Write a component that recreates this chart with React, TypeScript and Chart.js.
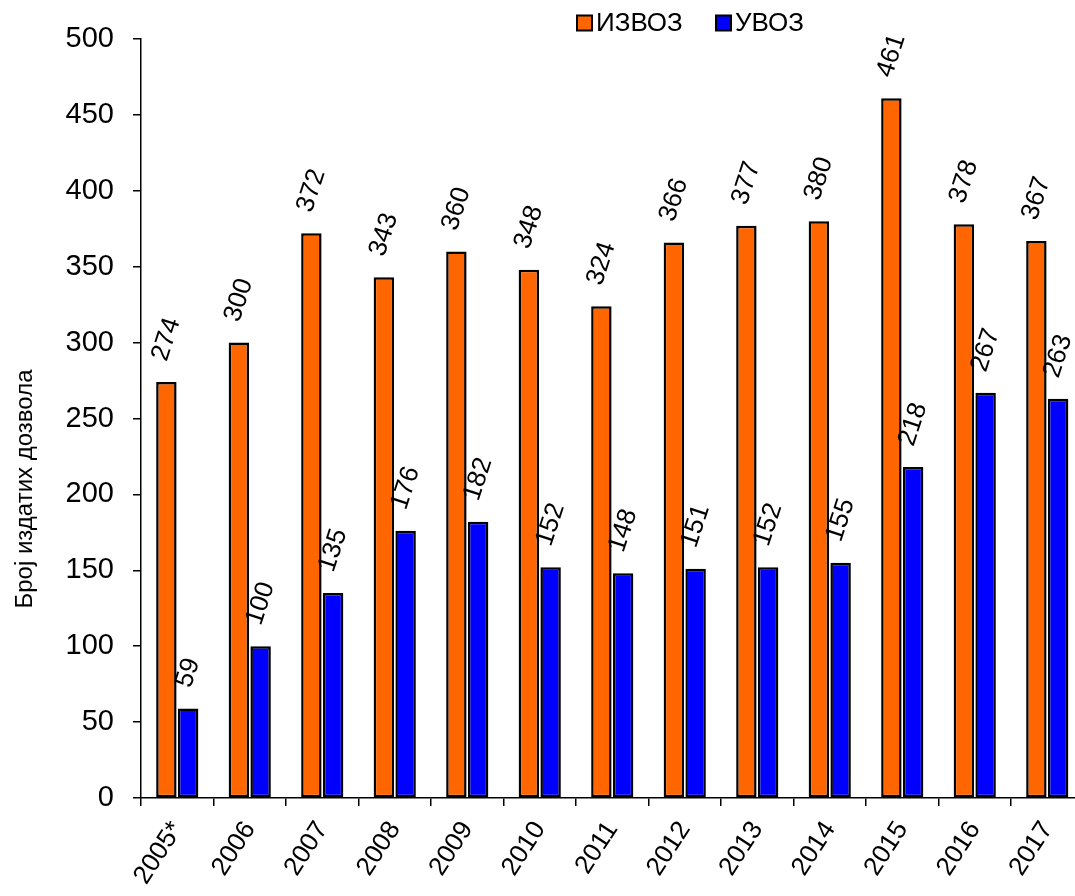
import React, { useEffect, useRef } from "react";
import { Chart, registerables } from "chart.js";

Chart.register(...registerables);

const categories = ["2005*", "2006", "2007", "2008", "2009", "2010", "2011", "2012", "2013", "2014", "2015", "2016", "2017"];
const exportValues = [274, 300, 372, 343, 360, 348, 324, 366, 377, 380, 461, 378, 367];
const importValues = [59, 100, 135, 176, 182, 152, 148, 151, 152, 155, 218, 267, 263];
const seriesNames = ["ИЗВОЗ", "УВОЗ"];
const seriesColors = ["#FF6600", "#0000FF"];
const yTitle = "Број издатих дозвола";

const FONT = "'Liberation Sans', Arial, sans-serif";

const valueLabelPlugin = {
  id: "valueLabels",
  afterDatasetsDraw(chart: any) {
    const ctx = chart.ctx;
    ctx.save();
    ctx.font = `26px ${FONT}`;
    ctx.fillStyle = "#000";
    const ang = (72 * Math.PI) / 180;
    chart.data.datasets.forEach((ds: any, di: number) => {
      const meta = chart.getDatasetMeta(di);
      meta.data.forEach((bar: any, i: number) => {
        const text = String(ds.data[i]);
        const L = ctx.measureText(text).width;
        const h = 19;
        const H = L * Math.sin(ang) + h * Math.cos(ang);
        const cx = bar.x;
        const cy = bar.y - 19 - H / 2;
        ctx.save();
        ctx.translate(cx, cy);
        ctx.rotate(-ang);
        ctx.textAlign = "center";
        ctx.textBaseline = "middle";
        ctx.fillText(text, 0, 0);
        ctx.restore();
      });
    });
    ctx.restore();
  },
};

const customLegendPlugin = {
  id: "customLegend",
  afterDraw(chart: any) {
    const ctx = chart.ctx;
    ctx.save();
    ctx.font = `26px ${FONT}`;
    ctx.textBaseline = "middle";
    ctx.textAlign = "left";
    const starts = [577, 716];
    const cy = 23;
    seriesNames.forEach((name, i) => {
      const x = starts[i];
      ctx.fillStyle = seriesColors[i];
      ctx.fillRect(x, cy - 7.5, 15, 15);
      ctx.lineWidth = 2;
      ctx.strokeStyle = "#000";
      ctx.strokeRect(x, cy - 7.5, 15, 15);
      ctx.fillStyle = "#000";
      ctx.fillText(name, x + 19, cy + 1);
    });
    // y axis title
    ctx.font = `24px ${FONT}`;
    ctx.translate(25, 489);
    ctx.rotate(-Math.PI / 2);
    ctx.textAlign = "center";
    ctx.fillText(yTitle, 0, 0);
    ctx.restore();
  },
};

export default function App() {
  const ref = useRef<HTMLCanvasElement>(null);
  useEffect(() => {
    if (!ref.current) return;
    const chart = new Chart(ref.current, {
      type: "bar",
      data: {
        labels: categories,
        datasets: [
          {
            label: seriesNames[0],
            data: exportValues,
            backgroundColor: seriesColors[0],
            borderColor: "#000",
            borderWidth: 2.5,
            borderSkipped: false,
          },
          {
            label: seriesNames[1],
            data: importValues,
            backgroundColor: seriesColors[1],
            borderColor: "#000",
            borderWidth: 2.5,
            borderSkipped: false,
          },
        ],
      },
      options: {
        responsive: false,
        animation: false,
        devicePixelRatio: 1,
        layout: { padding: { top: 39, right: 16.5, left: 0, bottom: 0 } },
        datasets: { bar: { categoryPercentage: 0.6, barPercentage: 0.94 } },
        plugins: {
          legend: { display: false },
          tooltip: { enabled: false },
        },
        scales: {
          x: {
            grid: { display: true, drawOnChartArea: false, drawTicks: true, tickLength: 8, color: "#000", lineWidth: 1.5, offset: true },
            border: { display: true, color: "#000", width: 1.5 },
            ticks: { color: "#000", font: { family: FONT, size: 26 }, maxRotation: 57, minRotation: 57, padding: 10, autoSkip: false },
            afterFit: (s: any) => { s.height = 98; },
          },
          y: {
            min: 0,
            max: 500,
            grid: { display: true, drawOnChartArea: false, drawTicks: true, tickLength: 8, color: "#000", lineWidth: 1.5 },
            border: { display: true, color: "#000", width: 1.5 },
            ticks: { stepSize: 50, color: "#000", font: { family: FONT, size: 29 }, padding: 19 },
            afterFit: (s: any) => { s.width = 141; },
          },
        },
      },
      plugins: [valueLabelPlugin, customLegendPlugin],
    });
    return () => chart.destroy();
  }, []);
  return (
    <div style={{ position: "fixed", left: 0, top: 0, width: 1075, height: 896, overflow: "hidden", background: "#fff" }}>
      <canvas ref={ref} width={1100} height={896} style={{ display: "block" }} />
    </div>
  );
}
